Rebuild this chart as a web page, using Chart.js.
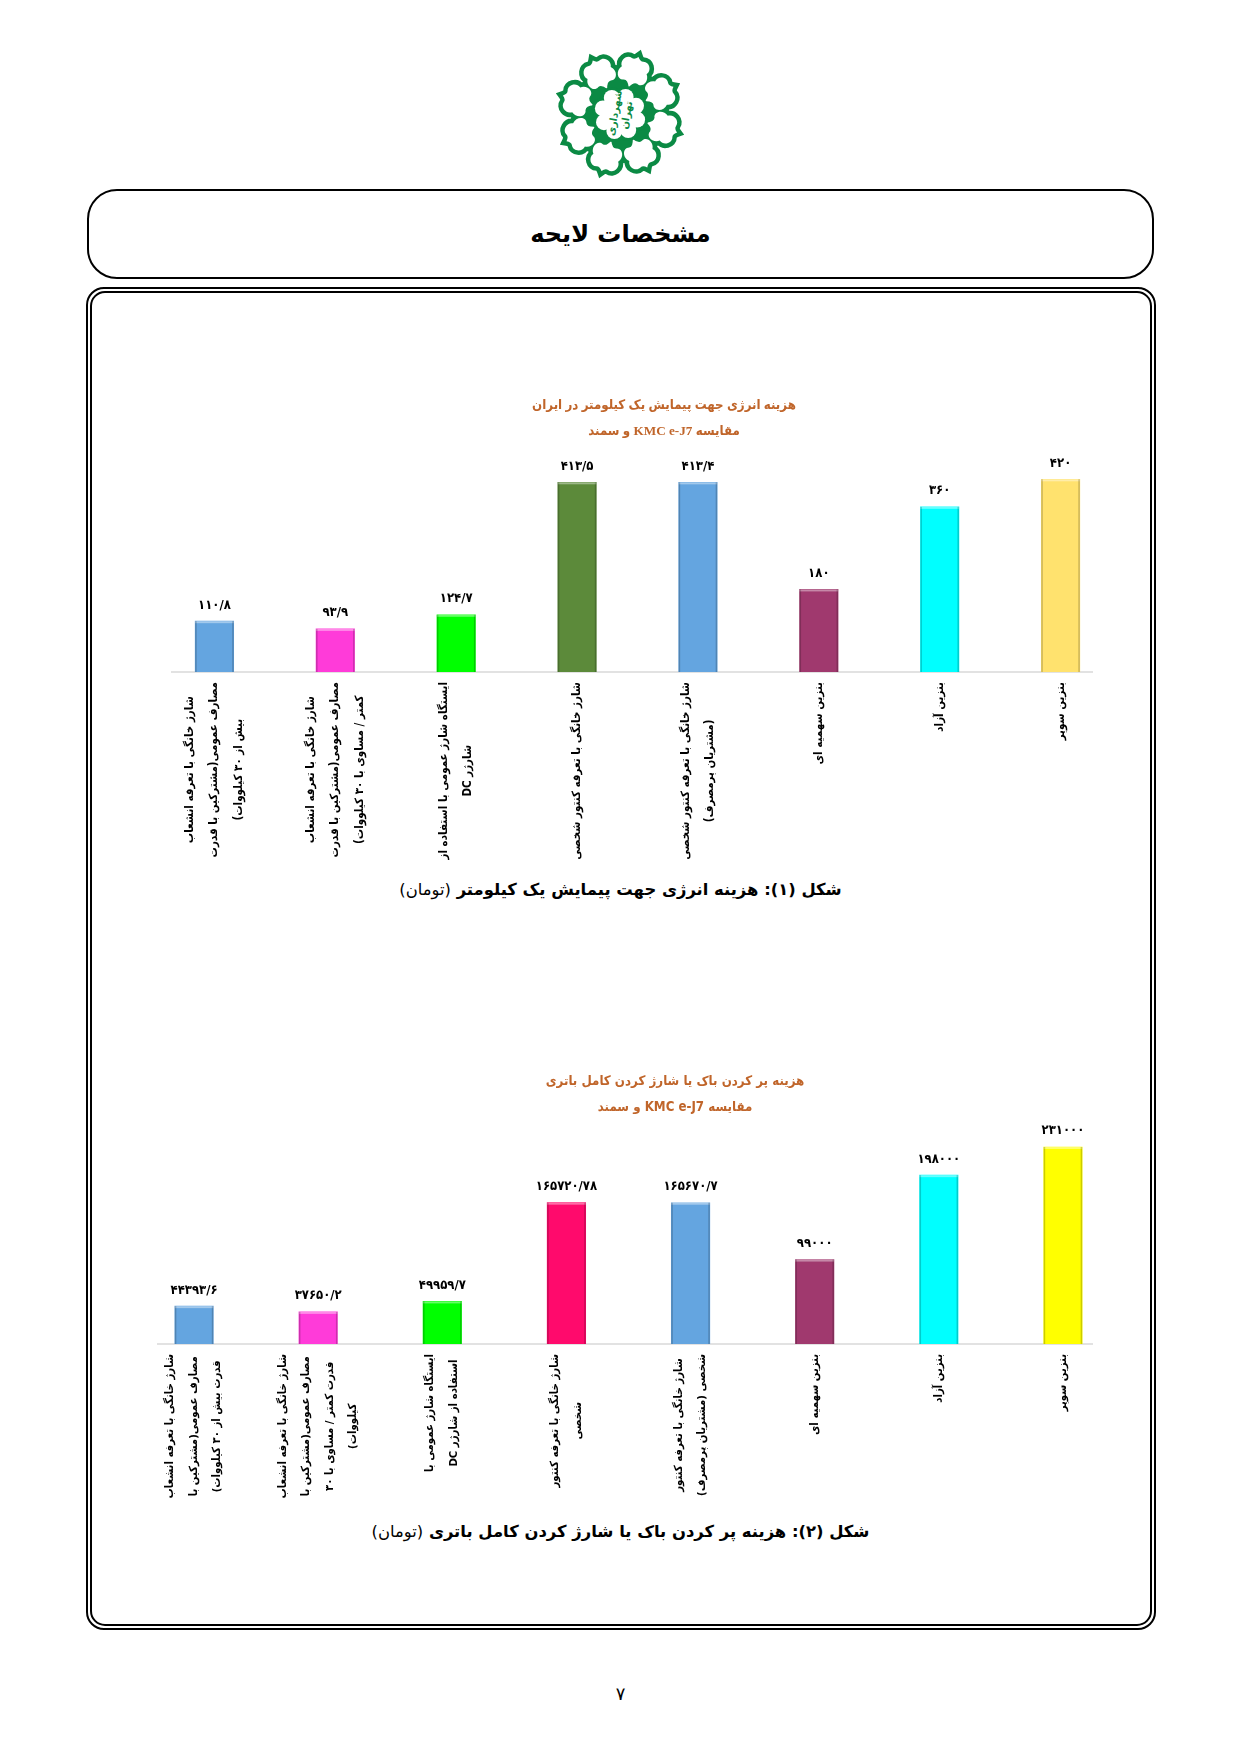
<!DOCTYPE html>
<html lang="fa" dir="rtl">
<head>
<meta charset="utf-8">
<title>مشخصات لایحه</title>
<script src="https://cdn.jsdelivr.net/npm/chart.js@4"></script>
<style>
  html, body { margin: 0; padding: 0; background: #fff; }
  body { position: relative; width: 1241px; height: 1755px; overflow: hidden; font-family: "DejaVu Sans", sans-serif; color: #000; }
  canvas { position: absolute; }
  #logo { position: absolute; left: 550px; top: 43.5px; width: 140px; height: 140px; }
  #head { position: absolute; left: 87px; top: 189px; width: 1067px; height: 90px; box-sizing: border-box; border: 2px solid #000; border-radius: 30px;
          text-align: center; font-weight: bold; font-size: 24px; line-height: 86px; }
  #frame { position: absolute; left: 86px; top: 287px; width: 1070px; height: 1343px; box-sizing: border-box; border: 2px solid #000; border-radius: 18px; }
  #frame::after { content: ""; position: absolute; left: 2px; top: 2px; right: 2px; bottom: 2px; border: 2px solid #000; border-radius: 15px; }
  .caption { position: absolute; left: 0; width: 1241px; text-align: center; font-size: 16.4px; font-weight: bold; line-height: 30px; }
  .caption span { font-weight: normal; }
  #page { position: absolute; left: 0; width: 1241px; top: 1683px; text-align: center; font-size: 18px; }
</style>
</head>
<body>
<svg id="logo" viewBox="-70 -70 140 140"></svg>
<div id="head">مشخصات لایحه</div>
<div id="frame"></div>
<canvas id="energyChart" dir="rtl" style="left:154px;top:380px"></canvas>
<div class="caption" style="top:875px">شکل (۱): هزینه انرژی جهت پیمایش یک کیلومتر <span>(تومان)</span></div>
<canvas id="fillChart" dir="rtl" style="left:132px;top:1060px"></canvas>
<div class="caption" style="top:1517px">شکل (۲): هزینه پر کردن باک یا شارژ کردن کامل باتری <span>(تومان)</span></div>
<div id="page">۷</div>

<script>
// Chart 1: energy cost per kilometre
const energyLabels = [
  ['شارژ خانگی با تعرفه انشعاب', 'مصارف عمومی(مشترکین با قدرت', 'بیش از ۳۰ کیلووات)'],
  ['شارژ خانگی با تعرفه انشعاب', 'مصارف عمومی(مشترکین با قدرت', 'کمتر / مساوی با ۳۰ کیلووات)'],
  ['ایستگاه شارژ عمومی با استفاده از', 'شارژر DC'],
  ['شارژ خانگی با تعرفه کنتور شخصی'],
  ['شارژ خانگی با تعرفه کنتور شخصی', '(مشتریان پرمصرف)'],
  ['بنزین سهمیه ای'],
  ['بنزین آزاد'],
  ['بنزین سوپر']
];
const energyValues = [110.8, 93.9, 124.7, 413.5, 413.4, 180, 360, 420];
const energyValueText = ['۱۱۰/۸', '۹۳/۹', '۱۲۴/۷', '۴۱۳/۵', '۴۱۳/۴', '۱۸۰', '۳۶۰', '۴۲۰'];
const energyColors = ['#64A5E0', '#FF3BD9', '#00FF00', '#5C8A3A', '#64A5E0', '#A0396E', '#00FFFF', '#FFE26E'];
const energyTitle = ['هزینه انرژی جهت پیمایش یک کیلومتر در ایران', 'مقایسه KMC e-J7 و سمند'];

// Chart 2: cost of filling the tank or charging the battery
const fillLabels = [
  ['شارژ خانگی با تعرفه انشعاب', 'مصارف عمومی(مشترکین با', 'قدرت بیش از ۳۰ کیلووات)'],
  ['شارژ خانگی با تعرفه انشعاب', 'مصارف عمومی(مشترکین با', 'قدرت کمتر / مساوی با ۳۰', 'کیلووات)'],
  ['ایستگاه شارژ عمومی با', 'استفاده از شارژر DC'],
  ['شارژ خانگی با تعرفه کنتور', 'شخصی'],
  ['شارژ خانگی با تعرفه کنتور', 'شخصی (مشتریان پرمصرف)'],
  ['بنزین سهمیه ای'],
  ['بنزین آزاد'],
  ['بنزین سوپر']
];
const fillValues = [44393.6, 37650.2, 49959.7, 165720.78, 165670.7, 99000, 198000, 231000];
const fillValueText = ['۴۴۳۹۳/۶', '۳۷۶۵۰/۲', '۴۹۹۵۹/۷', '۱۶۵۷۲۰/۷۸', '۱۶۵۶۷۰/۷', '۹۹۰۰۰', '۱۹۸۰۰۰', '۲۳۱۰۰۰'];
const fillColors = ['#64A5E0', '#FF3BD9', '#00FF00', '#FF0A6C', '#64A5E0', '#A0396E', '#00FFFF', '#FFFF00'];
const fillTitle = ['هزینه پر کردن باک یا شارژ کردن کامل باتری', 'مقایسه KMC e-J7 و سمند'];

const labelFamily = '"DejaVu Sans Condensed", "DejaVu Sans", sans-serif';

// the tick labels in the source are centred line by line and centred on the bar
const centerTickLines = {
  id: 'centerTickLines',
  beforeDraw(chart) {
    const scale = chart.scales.x;
    const { ctx } = chart;
    const top = scale.top + scale.options.ticks.padding;
    scale.getLabelItems(chart.chartArea).forEach(item => {
      if (item.centred) return;
      item.centred = true;
      const lines = [].concat(item.label);
      ctx.save();
      ctx.font = item.font.string;
      const longest = Math.max(...lines.map(l => ctx.measureText(l).width));
      ctx.restore();
      const lineHeight = item.font.lineHeight;
      item.options.textAlign = 'center';
      item.options.translation = [
        item.options.translation[0] - (lines.length - 1) / 2 * lineHeight,
        top + longest / 2
      ];
    });
  }
};

// baseline, bevel on the bars and value text over each bar
const barDecor = {
  id: 'barDecor',
  afterLayout(chart, args, opts) {
    // the title sits right of the plot centre
    chart.titleBlock.left += 2 * opts.titleShift;
  },
  beforeDatasetsDraw(chart, args, opts) {
    const { ctx, scales: { x, y } } = chart;
    ctx.save();
    ctx.strokeStyle = '#D9D9D9';
    ctx.lineWidth = 1.5;
    ctx.beginPath();
    ctx.moveTo(x.left + opts.lineStart, y.bottom);
    ctx.lineTo(x.right - opts.lineEnd, y.bottom);
    ctx.stroke();
    ctx.restore();
  },
  afterDatasetsDraw(chart, args, opts) {
    const { ctx } = chart;
    ctx.save();
    chart.getDatasetMeta(0).data.forEach((bar, i) => {
      const left = bar.x - bar.width / 2;
      const h = bar.base - bar.y;
      ctx.fillStyle = 'rgba(255,255,255,0.4)';
      ctx.fillRect(left, bar.y, bar.width, 2);
      ctx.fillStyle = 'rgba(0,0,0,0.2)';
      ctx.fillRect(left, bar.y, 1.5, h);
      ctx.fillRect(left + bar.width - 1.5, bar.y, 1.5, h);
      ctx.fillStyle = '#000';
      ctx.font = 'bold 13px ' + labelFamily;
      ctx.textAlign = 'center';
      ctx.textBaseline = 'middle';
      ctx.fillText(opts.text[i], bar.x, bar.y - 16);
    });
    ctx.restore();
  }
};

function makeChart(id, cfg) {
  const canvas = document.getElementById(id);
  canvas.width = cfg.width;
  canvas.height = cfg.height;
  return new Chart(canvas, {
    type: 'bar',
    data: {
      labels: cfg.labels,
      datasets: [{ data: cfg.values, backgroundColor: cfg.colors, barThickness: 38.5, borderWidth: 0 }]
    },
    options: {
      responsive: false,
      animation: false,
      devicePixelRatio: 1,
      scales: {
        x: {
          grid: { display: false },
          border: { display: false },
          afterFit: s => { s.height = cfg.axisHeight; },
          ticks: {
            autoSkip: false, minRotation: 90, maxRotation: 90, padding: 10,
            color: '#000',
            font: { family: labelFamily, size: cfg.tickSize, weight: 'bold', lineHeight: cfg.tickLine }
          }
        },
        y: { display: false, min: 0, max: cfg.yMax }
      },
      plugins: {
        legend: { display: false },
        tooltip: { enabled: false },
        title: {
          display: true,
          text: cfg.title,
          color: '#C0652A',
          font: { family: cfg.titleFamily, size: 13.2, weight: 'bold', lineHeight: 2 },
          padding: cfg.titlePad
        },
        barDecor: { text: cfg.text, lineStart: cfg.lineStart, lineEnd: cfg.lineEnd, titleShift: cfg.titleShift }
      }
    },
    plugins: [centerTickLines, barDecor]
  });
}

makeChart('energyChart', {
  width: 967, height: 490, axisHeight: 198, yMax: 480, tickSize: 11.5, tickLine: 2.13,
  labels: energyLabels, values: energyValues, colors: energyColors, text: energyValueText,
  title: energyTitle, titleFamily: '"Liberation Serif", ' + labelFamily, titlePad: { top: 12, bottom: 7 }, titleShift: 26.5,
  lineStart: 17, lineEnd: 28
});

makeChart('fillChart', {
  width: 993, height: 450, axisHeight: 166, yMax: 250000, tickSize: 11.3, tickLine: 2.08,
  labels: fillLabels, values: fillValues, colors: fillColors, text: fillValueText,
  title: fillTitle, titleFamily: labelFamily, titlePad: { top: 8, bottom: 10 }, titleShift: 46.5,
  lineStart: 25, lineEnd: 32
});

// city logo: ring of eight three-lobed openings around a white flower
const green = '#0B8A44';
const lobePath = 'M0,-60 Q3,-56 6,-57 C12,-59 17,-51 13,-46 C18,-40 13,-31 7,-34 Q3,-35 0,-28 Q-3,-35 -7,-34 C-13,-31 -18,-40 -13,-46 C-17,-51 -12,-59 -6,-57 Q-3,-56 0,-60Z';
let lobeOutline = '', lobeFill = '', petalOutline = '', petalFill = '';
for (let k = 0; k < 8; k++) {
  const a = k * 45 + 18;
  lobeOutline += `<path transform="rotate(${a})" d="${lobePath}" fill="${green}" stroke="${green}" stroke-width="9" stroke-linejoin="miter"/>`;
  lobeFill += `<path transform="rotate(${a})" d="${lobePath}" fill="#fff"/>`;
  const px = (18 * Math.cos(a * Math.PI / 180)).toFixed(1), py = (18 * Math.sin(a * Math.PI / 180)).toFixed(1);
  petalOutline += `<circle cx="${px}" cy="${py}" r="11" fill="${green}"/>`;
  petalFill += `<circle cx="${px}" cy="${py}" r="8" fill="#fff"/>`;
}
document.getElementById('logo').innerHTML =
  lobeOutline + `<circle r="38" fill="${green}"/>` + lobeFill + petalOutline + petalFill + '<circle r="20" fill="#fff"/>' +
  `<g fill="${green}" font-size="10" font-weight="bold" text-anchor="middle" transform="rotate(-80)"><text y="-2">شهرداری</text><text y="10">تهران</text></g>`;
</script>
</body>
</html>
